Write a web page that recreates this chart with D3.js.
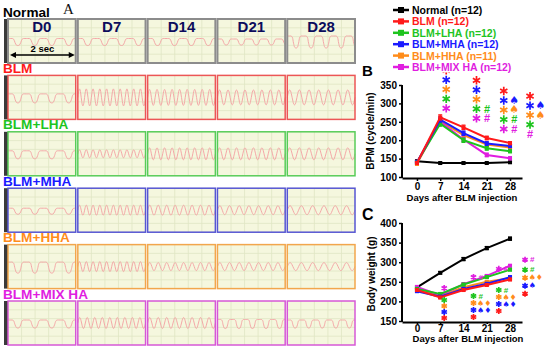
<!DOCTYPE html>
<html><head><meta charset="utf-8">
<script src="https://cdn.jsdelivr.net/npm/d3@7"></script>
<style>
body{margin:0;background:#fff}
svg{display:block;font-family:"Liberation Sans",Arial,sans-serif}
</style>
</head><body>
<svg id="c" width="550" height="348"></svg>
<script>
// ---------------- DATA ----------------
const days = [0, 7, 14, 21, 28];
const dayLabels = ["D0", "D7", "D14", "D21", "D28"];
const groups = ["Normal", "BLM", "BLM+LHA", "BLM+MHA", "BLM+HHA", "BLM+MIX HA"];
const legendLabels = ["Normal (n=12)", "BLM (n=12)", "BLM+LHA (n=12)", "BLM+MHA (n=12)", "BLM+HHA (n=11)", "BLM+MIX HA (n=12)"];
const colors = ["#000000", "#ff1a1a", "#1ec41e", "#1a1aff", "#ff8c1a", "#e01ee0"];
const borderColors = ["#8c8c8c", "#ec5656", "#58cc58", "#5656d2", "#f2a64c", "#d658d6"];

// Panel A: respiration traces (cycles per 2-s strip, relative amplitude, shape)
const waveCycles = [
  [4, 4, 4, 4.5, 4.5],
  [4, 10, 9, 8, 7],
  [4, 10, 9, 8, 7],
  [4, 10, 8, 7, 6],
  [4, 10, 8, 7, 6],
  [4, 9, 8, 5, 5]
];
const waveAmp = [
  [0.35, 0.35, 0.35, 0.3, 0.6],
  [0.45, 0.85, 0.8, 0.75, 0.75],
  [0.4, 0.4, 0.6, 0.6, 0.6],
  [0.3, 0.5, 0.5, 0.45, 0.45],
  [0.55, 0.5, 0.4, 0.4, 0.4],
  [0.4, 0.55, 0.55, 0.45, 0.4]
];
const waveShape = [
  ["d", "d", "d", "d", "d"],
  ["d", "s", "s", "s", "s"],
  ["d", "s", "s", "s", "s"],
  ["d", "s", "s", "s", "s"],
  ["d", "s", "s", "s", "s"],
  ["d", "s", "s", "d", "d"]
];
const dipTemplate = [1, 1, 1, 1, 0.8, -0.2, -0.9, -1, -0.9, -0.2, 0.8, 1];
const sineTemplate = [0, 0.5, 0.87, 1, 0.87, 0.5, 0, -0.5, -0.87, -1, -0.87, -0.5];

// Panel B: BPM (cycle/min)
const bpmNormal = [143, 138, 138, 138, 140];
const bpmBLM = [138, 262, 235, 206, 192];
const bpmLHA = [140, 245, 200, 178, 170];
const bpmMHA = [139, 256, 219, 191, 184];
const bpmHHA = [136, 252, 214, 188, 180];
const bpmMIX = [141, 250, 202, 160, 151];
const bpmErrNormal = [3, 2, 2, 2, 2];
const bpmErr = [4, 7, 6, 5, 4];

// Panel C: Body weight (g)
const bwNormal = [236, 273, 308, 336, 360];
const bwBLM = [229, 210, 229, 242, 256];
const bwLHA = [232, 219, 243, 262, 281];
const bwMHA = [226, 212, 232, 245, 262];
const bwHHA = [233, 214, 236, 250, 259];
const bwMIX = [237, 216, 244, 265, 291];
const bwErrNormal = [3, 3, 4, 4, 4];
const bwErr = [3, 3, 3, 3, 3];

// Significance marks (stack order top->bottom given by group index arrays)
const sigBOrder = [1, 3, 4, 2, 5];
const sigBText = [
  ["*", "*", "*", "*", "*"],
  ["*", "*", "*", "*#", "*#"],
  ["*", "*\u2660", "*\u2660", "*#", "*#"],
  ["*", "*\u2660", "*\u2660", "*", "#"]
];
const sigCOrder = [5, 2, 4, 3, 1];
const sigCText = [
  ["*", "*", "*", "*", "*"],
  ["*#", "*#", "*\u2660\u2666", "*\u2660\u2666", "*"],
  ["*#", "*#", "*\u2660\u2666", "*\u2660\u2666", "*"],
  ["*#", "*#", "*\u2660\u2666", "*\u2660", "*"]
];
const sigDays = [7, 14, 21, 28];

// ---------------- DRAW ----------------
const svg = d3.select("#c");

// ===== Panel A =====
const colScale = d3.scaleBand().domain(dayLabels).range([8, 355]).paddingInner(0.03);
const rowScale = d3.scaleBand().domain(groups).range([19, 345]).paddingInner(0.22);
const bw = colScale.bandwidth(), bh = rowScale.bandwidth();

groups.forEach((g, ri) => {
  const top = rowScale(g);
  svg.append("text").attr("x", 3).attr("y", top - 2.5)
    .attr("font-size", 13.6).attr("font-weight", "bold")
    .attr("fill", colors[ri]).text(g);
  svg.append("rect").attr("x", 4).attr("y", top).attr("width", 4).attr("height", bh).attr("fill", "#3a3a3a");

  dayLabels.forEach((d, ci) => {
    const left = colScale(d);
    const pg = svg.append("g");
    pg.append("rect").attr("x", left).attr("y", top).attr("width", bw).attr("height", bh).attr("fill", "#f5f7de");
    const gx = d3.range(1, 5).map(k => left + k * bw / 5);
    const gy = d3.range(1, 5).map(k => top + k * bh / 5);
    pg.selectAll(".gv").data(gx).enter().append("line")
      .attr("x1", v => v).attr("x2", v => v).attr("y1", top).attr("y2", top + bh)
      .attr("stroke", "#dfe6c4").attr("stroke-width", 0.8);
    pg.selectAll(".gh").data(gy).enter().append("line")
      .attr("x1", left).attr("x2", left + bw).attr("y1", v => v).attr("y2", v => v)
      .attr("stroke", "#dfe6c4").attr("stroke-width", 0.8);
    const tmpl = waveShape[ri][ci] === "d" ? dipTemplate : sineTemplate;
    const nc = waveCycles[ri][ci];
    const amp = waveAmp[ri][ci] * 10;
    const cy = top + (waveShape[ri][ci] === "d" ? 23 : 22);
    const wx = d3.scaleLinear().domain([0, nc]).range([left, left + bw]);
    const pts = [];
    for (let c = 0; c < Math.ceil(nc) + 1; c++) {
      tmpl.forEach((v, j) => {
        const t = c + j / tmpl.length;
        if (t <= nc) pts.push([wx(t), cy - amp * v]);
      });
    }
    pg.append("path").attr("d", d3.line().curve(d3.curveCatmullRom)(pts))
      .attr("fill", "none").attr("stroke", "#f4a8a8").attr("stroke-width", 1);
    pg.append("rect").attr("x", left).attr("y", top).attr("width", bw).attr("height", bh)
      .attr("fill", "none").attr("stroke", borderColors[ri]).attr("stroke-width", ri === 0 ? 2 : 1.5);
    if (ri === 0) {
      pg.append("text").attr("x", left + bw / 2).attr("y", top + 12.5)
        .attr("text-anchor", "middle").attr("font-size", 15).attr("font-weight", "bold")
        .attr("fill", "#0c0c5c").text(d);
    }
  });
});
svg.append("text").attr("x", 63).attr("y", 14).attr("font-family", "Liberation Serif, serif")
  .attr("font-size", 15).attr("fill", "#111").text("A");
{
  const l = colScale("D0") + 2, r = colScale("D0") + bw - 1, y = 55;
  svg.append("line").attr("x1", l + 3).attr("x2", r - 3).attr("y1", y).attr("y2", y).attr("stroke", "#000").attr("stroke-width", 1.5);
  svg.append("path").attr("d", `M${l},${y}L${l + 6},${y - 3}L${l + 6},${y + 3}Z`).attr("fill", "#000");
  svg.append("path").attr("d", `M${r},${y}L${r - 6},${y - 3}L${r - 6},${y + 3}Z`).attr("fill", "#000");
  svg.append("text").attr("x", (l + r) / 2).attr("y", 52).attr("text-anchor", "middle")
    .attr("font-size", 9.5).attr("font-weight", "bold").text("2 sec");
}

// ===== helpers =====
function drawChart(opts) {
  const { x, y, yTicks, series, errs, order, xAxisY, tickSizeX, padX, fontTick } = opts;
  const gA = svg.append("g");
  const ya = gA.append("g").attr("transform", `translate(${x.range()[0]},0)`)
    .call(d3.axisLeft(y).tickValues(yTicks).tickSize(3).tickPadding(2).tickSizeOuter(0));
  ya.select(".domain").attr("stroke-width", 2).attr("d", `M0,${xAxisY}V${y.range()[1]}`);
  ya.selectAll(".tick line").attr("stroke-width", 1.5);
  ya.selectAll("text").attr("font-size", fontTick).attr("font-weight", "bold").attr("fill", "#000")
    .attr("font-family", "Liberation Sans, Arial, sans-serif");
  const xa = gA.append("g").attr("transform", `translate(0,${xAxisY})`)
    .call(d3.axisBottom(x).tickValues(days).tickSize(tickSizeX).tickPadding(padX).tickSizeOuter(0));
  xa.select(".domain").attr("stroke-width", 2);
  xa.selectAll(".tick line").attr("stroke-width", 1.5);
  xa.selectAll("text").attr("font-size", fontTick).attr("font-weight", "bold").attr("fill", "#000")
    .attr("font-family", "Liberation Sans, Arial, sans-serif");
  const line = d3.line().x((d, i) => x(days[i])).y(d => y(d));
  order.forEach(gi => {
    const vals = series[gi], e = errs[gi], col = colors[gi];
    const sg = gA.append("g");
    sg.append("path").attr("d", line(vals)).attr("fill", "none").attr("stroke", col).attr("stroke-width", 2);
    vals.forEach((v, i) => {
      const cx = x(days[i]);
      sg.append("line").attr("x1", cx).attr("x2", cx).attr("y1", y(v - e[i])).attr("y2", y(v + e[i])).attr("stroke", col).attr("stroke-width", 1.2);
      [v - e[i], v + e[i]].forEach(b => sg.append("line").attr("x1", cx - 2).attr("x2", cx + 2).attr("y1", y(b)).attr("y2", y(b)).attr("stroke", col).attr("stroke-width", 1.2));
      sg.append("rect").attr("x", cx - 2).attr("y", y(v) - 2).attr("width", 4).attr("height", 4).attr("fill", col);
    });
  });
}

function drawMark(x0, yc, str, color, step, r, fs) {
  let xx = x0;
  for (const ch of str) {
    if (ch === "*") {
      const size = Math.pow(r / 0.59436, 2) - 0.75;
      const sym = d3.symbolAsterisk ? d3.symbol(d3.symbolAsterisk, size)() :
        `M0,${r}L0,${-r}M${-r*0.866},${-r/2}L${r*0.866},${r/2}M${-r*0.866},${r/2}L${r*0.866},${-r/2}`;
      svg.append("path").attr("d", sym).attr("transform", `translate(${xx},${yc})`)
        .attr("fill", "none").attr("stroke", color).attr("stroke-width", 1.7);
    } else {
      svg.append("text").attr("x", xx).attr("y", yc).attr("text-anchor", "middle")
        .attr("dominant-baseline", "central").attr("font-size", fs).attr("font-weight", "bold")
        .attr("font-family", ch === "#" ? "Liberation Sans, Arial, sans-serif" : "DejaVu Sans, sans-serif")
        .attr("fill", color).text(ch);
    }
    xx += step;
  }
}

// ===== Chart B =====
const xB = d3.scaleLinear().domain([-4.5, 31.6]).range([402, 522]);
const yB = d3.scaleLinear().domain([100, 350]).range([177, 85]);
const seriesB = [bpmNormal, bpmBLM, bpmLHA, bpmMHA, bpmHHA, bpmMIX];
const errsB = [bpmErrNormal, bpmErr, bpmErr, bpmErr, bpmErr, bpmErr];
drawChart({ x: xB, y: yB, yTicks: [100, 150, 200, 250, 300, 350], series: seriesB, errs: errsB,
  order: [0, 4, 5, 2, 3, 1], xAxisY: 178, tickSizeX: 3, padX: 1.5, fontTick: 10 });
svg.append("text").attr("x", 362).attr("y", 76).attr("font-size", 15).attr("font-weight", "bold").text("B");
svg.append("text").attr("transform", "translate(374,131) rotate(-90)").attr("text-anchor", "middle")
  .attr("font-size", 10).attr("font-weight", "bold").text("BPM (cycle/min)");
svg.append("text").attr("x", 462).attr("y", 200.5).attr("text-anchor", "middle")
  .attr("font-size", 9.5).attr("font-weight", "bold").text("Days after BLM injection");
const sigBdx = [6, 13, 17, 20];
sigDays.forEach((d, di) => {
  const idx = days.indexOf(d);
  const maxV = d3.max(seriesB.slice(1), s => s[idx]);
  const bottom = yB(maxV) - 9;
  sigBOrder.forEach((gi, k) => {
    const yc = bottom - (sigBOrder.length - 1 - k) * 9.5;
    drawMark(xB(d) + sigBdx[di], yc, sigBText[di][k], colors[gi], 10.5, 4.2, 11);
  });
});

// ===== Chart C =====
const xC = d3.scaleLinear().domain([-4.5, 31.6]).range([402, 522]);
const yC = d3.scaleLinear().domain([150, 400]).range([321, 223]);
const seriesC = [bwNormal, bwBLM, bwLHA, bwMHA, bwHHA, bwMIX];
const errsC = [bwErrNormal, bwErr, bwErr, bwErr, bwErr, bwErr];
drawChart({ x: xC, y: yC, yTicks: [150, 200, 250, 300, 350, 400], series: seriesC, errs: errsC,
  order: [0, 4, 5, 2, 3, 1], xAxisY: 322, tickSizeX: 2, padX: 1, fontTick: 10 });
svg.append("text").attr("x", 362).attr("y", 220).attr("font-size", 16).attr("font-weight", "bold").text("C");
svg.append("text").attr("transform", "translate(375,274) rotate(-90)").attr("text-anchor", "middle")
  .attr("font-size", 10).attr("font-weight", "bold").text("Body weight (g)");
svg.append("text").attr("x", 468).attr("y", 341.5).attr("text-anchor", "middle")
  .attr("font-size", 9.5).attr("font-weight", "bold").text("Days after BLM injection");
const sigCdx = [4, 10, 12, 15];
const sigCStart = [300, 296, 290];
const sigCStep = [6, 7, 7];
sigDays.forEach((d, di) => {
  const idx = days.indexOf(d);
  const x0 = xC(d) + sigCdx[di];
  if (di < 3) {
    drawMark(x0, yC(bwMIX[idx]) - 7, sigCText[di][0], colors[sigCOrder[0]], 7.2, 3.1, 8);
    sigCOrder.slice(1).forEach((gi, k) => {
      drawMark(x0, sigCStart[di] + k * sigCStep[di], sigCText[di][k + 1], colors[gi], 7.2, 3.1, 8);
    });
  } else {
    sigCOrder.forEach((gi, k) => {
      const yc = yC(bwMIX[idx]) - 6 + k * 8 + (k > 0 ? 2 : 0);
      drawMark(x0, yc, sigCText[di][k], colors[gi], 7.2, 3.1, 8);
    });
  }
});

// ===== Legend (drawn last, on a white box) =====
svg.append("rect").attr("x", 390).attr("y", 2).attr("width", 125).attr("height", 70.5).attr("fill", "#fff");
legendLabels.forEach((t, i) => {
  const y = 10 + i * 11.4;
  svg.append("line").attr("x1", 393).attr("x2", 409).attr("y1", y).attr("y2", y)
    .attr("stroke", colors[i]).attr("stroke-width", 2.5);
  svg.append("rect").attr("x", 398).attr("y", y - 3).attr("width", 6).attr("height", 6).attr("fill", colors[i]);
  svg.append("text").attr("x", 412).attr("y", y).attr("dominant-baseline", "central")
    .attr("font-size", 10.5).attr("font-weight", "bold").attr("fill", colors[i]).text(t);
});
</script>
</body></html>
